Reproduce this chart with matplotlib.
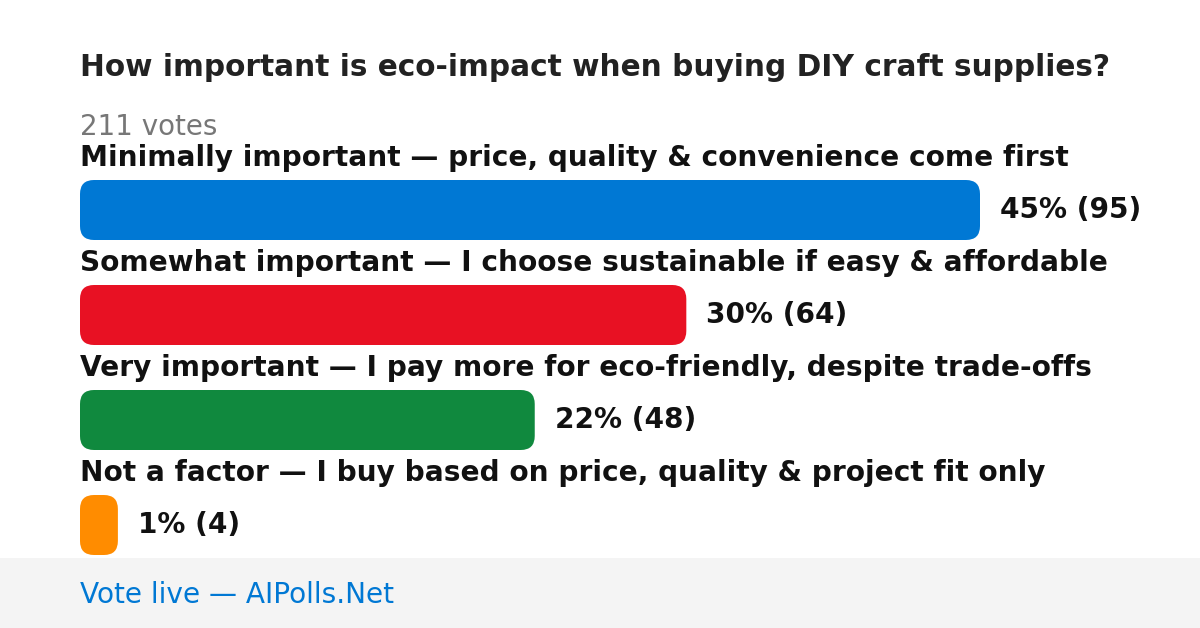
import matplotlib
matplotlib.use("Agg")
import matplotlib.pyplot as plt
from matplotlib.patches import FancyBboxPatch, Rectangle

plt.rcParams["font.family"] = ["DejaVu Sans"]

# Poll data
title = "How important is eco-impact when buying DIY craft supplies?"
total_votes = 211
options = [
    "Minimally important — price, quality & convenience come first",
    "Somewhat important — I choose sustainable if easy & affordable",
    "Very important — I pay more for eco-friendly, despite trade-offs",
    "Not a factor — I buy based on price, quality & project fit only",
]
counts = [95, 64, 48, 4]
percents = [45, 30, 22, 1]
colors = ["#0078D4", "#E81123", "#10893E", "#FF8C00"]

W, H = 1200, 628
fig = plt.figure(figsize=(W / 100, H / 100), dpi=100)
ax = fig.add_axes([0, 0, 1, 1])
ax.set_xlim(0, W)
ax.set_ylim(H, 0)
ax.axis("off")

# Footer band
ax.add_patch(Rectangle((0, 558), W, H - 558, facecolor="#F4F4F4", edgecolor="none"))
ax.text(80, 595, "Vote live — AIPolls.Net", fontsize=20.2, color="#0078D4",
        va="center", ha="left")

ax.text(80, 68, title, fontsize=21.3, fontweight="bold", color="#222222",
        va="center", ha="left")
ax.text(80, 127, f"{total_votes} votes", fontsize=20, color="#777777",
        va="center", ha="left")

max_w = 900
top = 180
step = 105
bar_h = 60
for i, (lab, c, p, col) in enumerate(zip(options, counts, percents, colors)):
    y = top + i * step
    w = c / max(counts) * max_w
    ax.text(80, y - 22, lab, fontsize=20.2, fontweight="bold", color="#111111",
            va="center", ha="left")
    r = min(14, w / 2)
    ax.add_patch(FancyBboxPatch((80, y), w, bar_h,
                                boxstyle=f"round,pad=0,rounding_size={r}",
                                facecolor=col, edgecolor="none"))
    ax.text(80 + w + 20, y + bar_h / 2, f"{p}% ({c})", fontsize=20.2,
            fontweight="bold", color="#111111", va="center", ha="left")

fig.savefig("out.png", dpi=100)
